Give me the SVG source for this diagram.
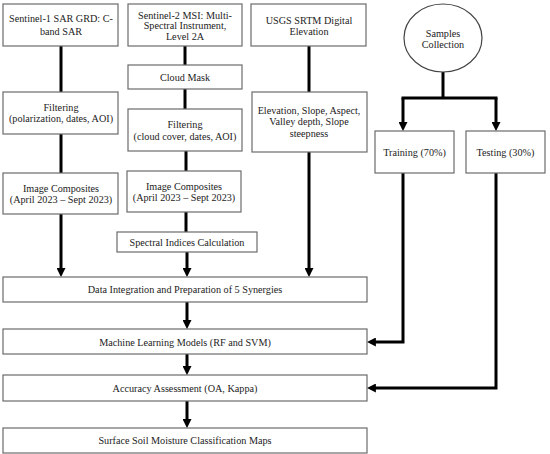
<svg xmlns="http://www.w3.org/2000/svg" width="550" height="454" viewBox="0 0 550 454">
<style>
.box{fill:#fff;stroke:#6b6b6b;stroke-width:1.2}
.t{font-family:"Liberation Serif","DejaVu Serif",serif;font-size:10.2px;fill:#222;text-anchor:middle}
.c{fill:none;stroke:#000;stroke-width:3}
</style>
<defs>
<marker id="ah" viewBox="0 0 10 10" refX="1" refY="5" markerWidth="9" markerHeight="9" markerUnits="userSpaceOnUse" orient="auto">
<path d="M0,0 L10,5 L0,10 z" fill="#000"/>
</marker>
</defs>
<rect width="550" height="454" fill="#fff"/>
<g id="connectors">
<path class="c" d="M61,46 V92"/>
<path class="c" d="M61,134 V173"/>
<path class="c" d="M61,214 V269" marker-end="url(#ah)"/>
<path class="c" d="M185,46 V65"/>
<path class="c" d="M185,89 V109"/>
<path class="c" d="M186,151 V171"/>
<path class="c" d="M186,212 V232"/>
<path class="c" d="M187,252 V269" marker-end="url(#ah)"/>
<path class="c" d="M309,46 V92"/>
<path class="c" d="M309,152 V269" marker-end="url(#ah)"/>
<path class="c" d="M443,72 V98"/>
<path class="c" d="M403,98 H496" stroke-linecap="square"/>
<path class="c" d="M403,98 V123" marker-end="url(#ah)"/>
<path class="c" d="M496,98 V123" marker-end="url(#ah)"/>
<path class="c" d="M403,173 V342 H375" marker-end="url(#ah)"/>
<path class="c" d="M496,173 V388 H375" marker-end="url(#ah)"/>
<path class="c" d="M187,302 V321" marker-end="url(#ah)"/>
<path class="c" d="M187,354 V367" marker-end="url(#ah)"/>
<path class="c" d="M187,401 V420" marker-end="url(#ah)"/>
</g>
<g id="s1"><rect class="box" x="3" y="4" width="115" height="42"/>
<text class="t" x="61" y="22">Sentinel-1 SAR GRD: C-</text><text class="t" x="61" y="35">band SAR</text></g>
<g id="filter1"><rect class="box" x="3" y="92" width="115" height="42"/>
<text class="t" x="61" y="111">Filtering</text><text class="t" x="61" y="122">(polarization, dates, AOI)</text></g>
<g id="comp1"><rect class="box" x="3" y="173" width="115" height="41"/>
<text class="t" x="61" y="192">Image Composites</text><text class="t" x="61" y="203">(April 2023 – Sept 2023)</text></g>
<g id="s2"><rect class="box" x="128" y="4" width="114" height="42"/>
<text class="t" x="185" y="18.5">Sentinel-2 MSI: Multi-</text><text class="t" x="185" y="29">Spectral Instrument,</text><text class="t" x="185" y="39.5">Level 2A</text></g>
<g id="cloud"><rect class="box" x="128" y="65" width="114" height="24"/>
<text class="t" x="185" y="80.5">Cloud Mask</text></g>
<g id="filter2"><rect class="box" x="128" y="109" width="114" height="42"/>
<text class="t" x="185" y="128">Filtering</text><text class="t" x="185" y="139.5">(cloud cover, dates, AOI)</text></g>
<g id="comp2"><rect class="box" x="127" y="171" width="114" height="41"/>
<text class="t" x="184" y="189.5">Image Composites</text><text class="t" x="184" y="200.5">(April 2023 – Sept 2023)</text></g>
<g id="spectral"><rect class="box" x="117" y="232" width="140" height="20"/>
<text class="t" x="187" y="245.5">Spectral Indices Calculation</text></g>
<g id="usgs"><rect class="box" x="251" y="4" width="115" height="42"/>
<text class="t" x="309" y="23.5">USGS SRTM Digital</text><text class="t" x="309" y="35">Elevation</text></g>
<g id="elev"><rect class="box" x="252" y="92" width="115" height="60"/>
<text class="t" x="309" y="113.5">Elevation, Slope, Aspect,</text><text class="t" x="309" y="125">Valley depth, Slope</text><text class="t" x="309" y="136.5">steepness</text></g>
<g id="samples"><ellipse cx="443" cy="38" rx="39" ry="34" fill="#fff" stroke="#444" stroke-width="1.2"/>
<text class="t" x="443" y="36.5">Samples</text><text class="t" x="443" y="47.5">Collection</text></g>
<g id="training"><rect class="box" x="375" y="131" width="79" height="42"/>
<text class="t" x="414.5" y="156">Training (70%)</text></g>
<g id="testing"><rect class="box" x="466" y="131" width="79" height="42"/>
<text class="t" x="505.5" y="156">Testing (30%)</text></g>
<g id="integration"><rect class="box" x="3" y="277" width="364" height="25"/>
<text class="t" x="185" y="293">Data Integration and Preparation of 5 Synergies</text></g>
<g id="ml"><rect class="box" x="3" y="329" width="364" height="25"/>
<text class="t" x="185" y="345.5">Machine Learning Models (RF and SVM)</text></g>
<g id="accuracy"><rect class="box" x="3" y="375" width="364" height="26"/>
<text class="t" x="185" y="391.5">Accuracy Assessment (OA, Kappa)</text></g>
<g id="maps"><rect class="box" x="3" y="428" width="364" height="25"/>
<text class="t" x="185" y="444">Surface Soil Moisture Classification Maps</text></g>
</svg>
